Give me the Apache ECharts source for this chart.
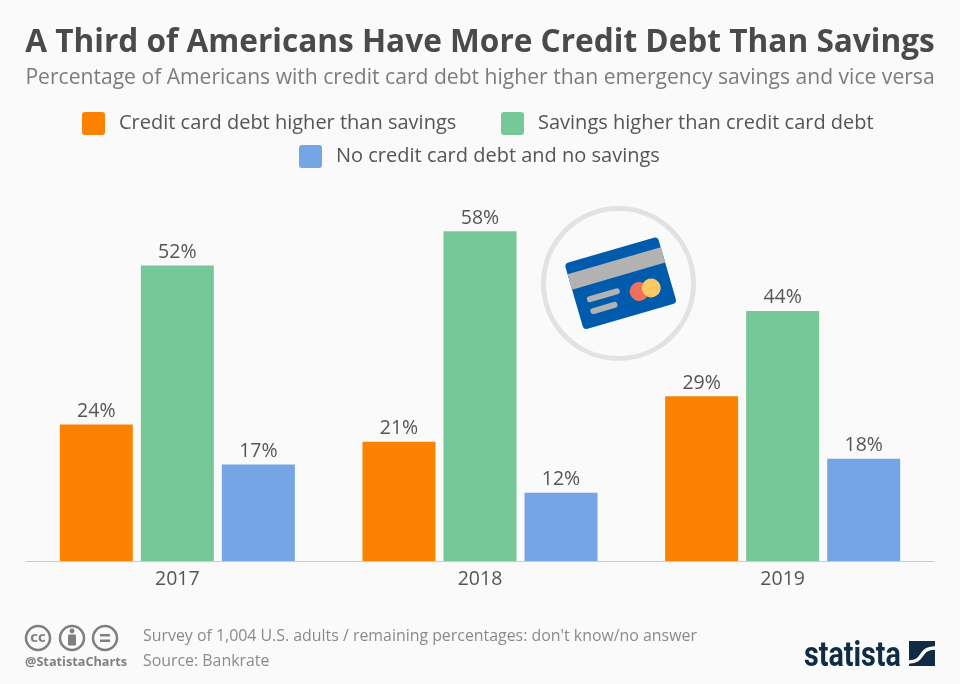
<!DOCTYPE html>
<html>
<head>
<meta charset="utf-8">
<style>
  html, body { margin: 0; padding: 0; background: #fafafa; }
  #chart { width: 960px; height: 684px; }
</style>
<script src="https://cdn.jsdelivr.net/npm/echarts@6/dist/echarts.min.js"></script>
</head>
<body>
<div id="chart"></div>
<script>
const years = ['2017', '2018', '2019'];
const debtHigher = [24, 21, 29];
const savingsHigher = [52, 58, 44];
const neither = [17, 12, 18];

const debtName = 'Credit card debt higher than savings';
const savingsName = 'Savings higher than credit card debt';
const neitherName = 'No credit card debt and no savings';

const FONT = '"Open Sans", sans-serif';
const GREY = '#7c7c7c';
const ICON_GREY = '#7f7f7f';

const makeSeries = (name, values, color) => ({
  name: name,
  type: 'bar',
  data: values,
  barWidth: 73,
  barGap: '11%',
  itemStyle: { color: color },
  label: {
    show: true,
    position: 'top',
    distance: 3,
    formatter: '{c}%',
    fontFamily: FONT,
    fontSize: 19.5,
    color: '#555555'
  }
});

const makeLegend = (name, left, top) => ({
  data: [name],
  left: left,
  top: top,
  padding: 0,
  itemWidth: 23,
  itemHeight: 23,
  icon: 'path://M3,0H20A3,3,0,0,1,23,3V20A3,3,0,0,1,20,23H3A3,3,0,0,1,0,20V3A3,3,0,0,1,3,0Z',
  selectedMode: false,
  textStyle: {
    fontFamily: FONT,
    fontSize: 20,
    color: '#555555',
    padding: [5, 0, 0, 9]
  }
});

const footerText = (text, y) => ({
  type: 'text',
  x: 143,
  y: y,
  style: { text: text, fontFamily: FONT, fontSize: 15.9, fill: '#8a8a8a', verticalAlign: 'middle' }
});

const ring = (cx) => ({
  type: 'circle',
  shape: { cx: cx, cy: 638, r: 12 },
  style: { fill: 'none', stroke: ICON_GREY, lineWidth: 2.5 }
});

const cardIcon = () => ({
  type: 'group',
  x: 620.7,
  y: 283.3,
  rotation: 16.2 * Math.PI / 180,
  children: [
    { type: 'rect', shape: { x: -48.5, y: -34.5, width: 97, height: 69, r: 4 }, style: { fill: '#005bac' } },
    { type: 'rect', shape: { x: -48.5, y: -23.5, width: 97, height: 16 }, style: { fill: '#b2b2b2' } },
    { type: 'rect', shape: { x: -37, y: 3.6, width: 34, height: 6, r: 3 }, style: { fill: '#b2b2b2' } },
    { type: 'rect', shape: { x: -37, y: 16, width: 28, height: 6, r: 3 }, style: { fill: '#b2b2b2' } },
    { type: 'circle', shape: { cx: 15.5, cy: 13, r: 9.5 }, style: { fill: '#f0705f' } },
    { type: 'circle', shape: { cx: 28, cy: 13, r: 9.5 }, style: { fill: '#fcc860' } }
  ]
});

const getOption = () => ({
  backgroundColor: '#fafafa',
  animation: false,
  title: [
    {
      text: 'A Third of Americans Have More Credit Debt Than Savings',
      left: 'center',
      top: 27,
      padding: 0,
      textStyle: { fontFamily: FONT, fontSize: 31.6, fontWeight: 'bold', color: '#4a4a4a' }
    },
    {
      text: 'Percentage of Americans with credit card debt higher than emergency savings and vice versa',
      left: 'center',
      top: 67,
      padding: 0,
      textStyle: { fontFamily: FONT, fontSize: 21.1, fontWeight: 'normal', color: GREY }
    }
  ],
  legend: [
    makeLegend(debtName, 82, 112),
    makeLegend(savingsName, 501, 112),
    makeLegend(neitherName, 299, 145)
  ],
  grid: { left: 26, right: 26, top: 220, bottom: 123 },
  xAxis: {
    type: 'category',
    data: years,
    axisTick: { show: false },
    axisLine: { lineStyle: { color: '#cccccc', width: 1 } },
    axisLabel: { fontFamily: FONT, fontSize: 19.5, color: '#555555', margin: 8 }
  },
  yAxis: {
    type: 'value',
    min: 0,
    max: 60,
    show: false
  },
  series: [
    makeSeries(debtName, debtHigher, '#fa8200'),
    makeSeries(savingsName, savingsHigher, '#77c899'),
    makeSeries(neitherName, neither, '#75a5e4')
  ],
  graphic: [
    { type: 'circle', shape: { cx: 618.5, cy: 283.5, r: 75 }, style: { fill: 'none', stroke: '#e2e2e2', lineWidth: 5 } },
    cardIcon(),
    ring(38),
    ring(72),
    ring(105),
    { type: 'text', x: 38, y: 638, style: { text: 'cc', fontFamily: FONT, fontSize: 15, fontWeight: 'bold', fill: ICON_GREY, align: 'center', verticalAlign: 'middle' } },
    { type: 'circle', shape: { cx: 72, cy: 631, r: 2.4 }, style: { fill: ICON_GREY } },
    { type: 'rect', shape: { x: 68, y: 634.5, width: 8, height: 11, r: 1 }, style: { fill: ICON_GREY } },
    { type: 'rect', shape: { x: 100, y: 634, width: 10, height: 2.5 }, style: { fill: ICON_GREY } },
    { type: 'rect', shape: { x: 100, y: 639.5, width: 10, height: 2.5 }, style: { fill: ICON_GREY } },
    { type: 'text', x: 25, y: 662, style: { text: '@StatistaCharts', fontFamily: FONT, fontSize: 12.7, fontWeight: 'bold', fill: ICON_GREY, verticalAlign: 'middle' } },
    footerText("Survey of 1,004 U.S. adults / remaining percentages: don't know/no answer", 636),
    footerText('Source: Bankrate', 661),
    { type: 'text', x: 804, y: 675, scaleX: 0.82, style: { text: 'statista', fontFamily: 'Roboto, sans-serif', fontSize: 35, fontWeight: 'bold', fill: '#0f2c44', align: 'left', verticalAlign: 'bottom' } },
    { type: 'rect', shape: { x: 909, y: 641, width: 26, height: 25 }, style: { fill: '#0f2c44' } },
    { type: 'bezierCurve', shape: { x1: 909, y1: 662, cpx1: 925, cpy1: 662, cpx2: 918, cpy2: 648, x2: 935, y2: 648 }, style: { fill: 'none', stroke: '#fafafa', lineWidth: 3.5 } }
  ]
});

const initChart = () => {
  const chart = echarts.init(document.getElementById('chart'));
  chart.setOption(getOption());
};

window.addEventListener('load', () => {
  initChart();
});
</script>
</body>
</html>
